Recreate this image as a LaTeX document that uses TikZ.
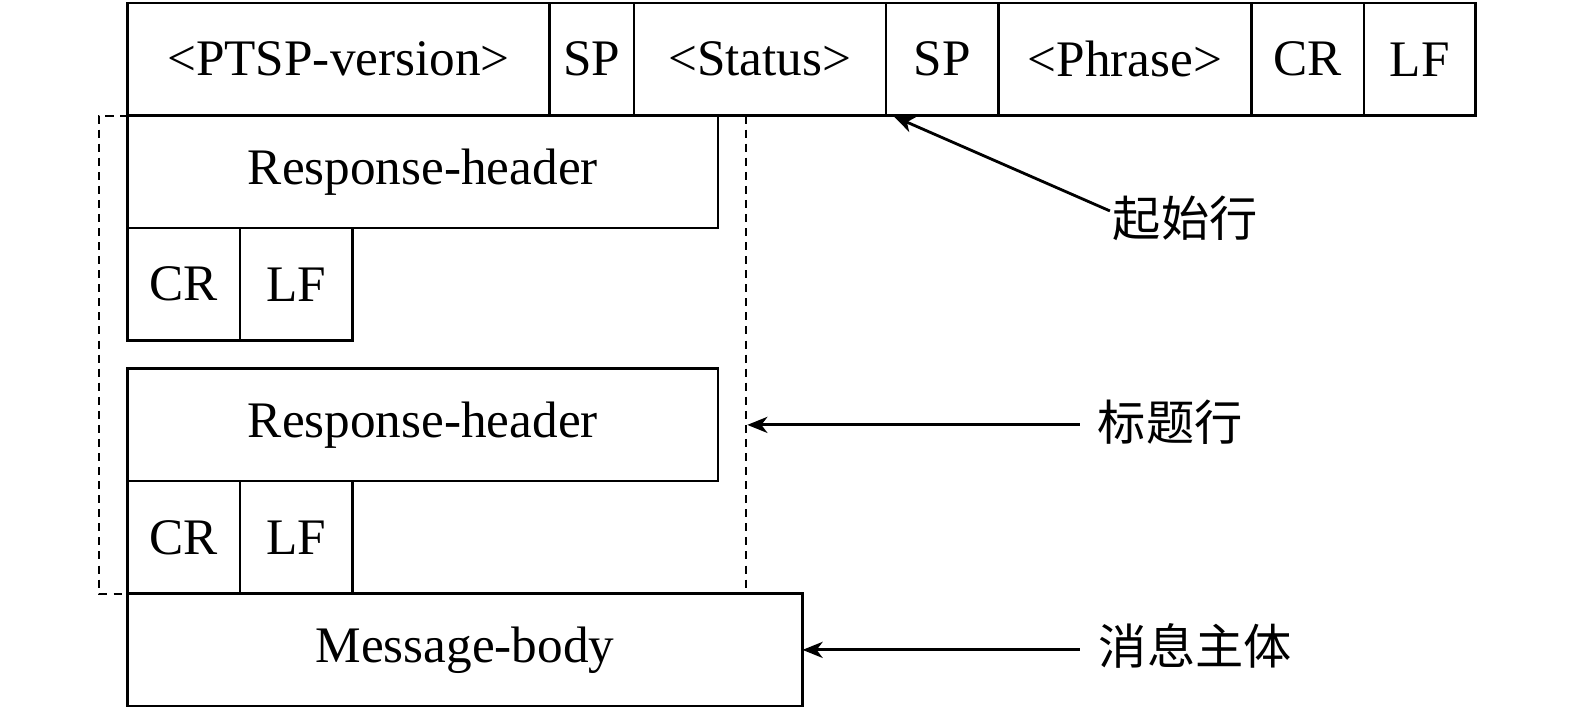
\documentclass[tikz,border=0pt]{standalone}
\usepackage{fontspec}
\setmainfont{Liberation Serif}
\newfontfamily\cjk{Noto Sans CJK SC}
\usetikzlibrary{arrows.meta}
\begin{document}
\begin{tikzpicture}[x=0.5pt,y=-0.5pt,
  cell/.style={draw,line width=1.2pt,inner sep=0pt,outer sep=0pt,font=\fontsize{25.5}{30}\selectfont,minimum height=56pt},
  lbl/.style={inner sep=0pt,font=\cjk\fontsize{24}{28}\selectfont},
  arr/.style={line width=1.4pt,-{Stealth[length=10pt,width=8pt,inset=3pt]}},
  dsh/.style={line width=1pt,dash pattern=on 4pt off 3pt}]
\useasboundingbox (0,0) rectangle (1568,706);
% top row
\node[cell,minimum width=210pt] (ver) at (337,59) {<PTSP-version>};
\node[cell,minimum width=42pt] (sp1) at (589,59) {SP};
\node[cell,minimum width=125.5pt] (st) at (756.5,59) {<Status>};
\node[cell,minimum width=56pt] (sp2) at (938,59) {SP};
\node[cell,minimum width=126pt] (ph) at (1120,59) {<Phrase>};
\node[cell,minimum width=56pt] (cr0) at (1302,59) {CR};
\node[cell,minimum width=55.5pt] (lf0) at (1413.5,59) {LF};
% header 1
\node[cell,minimum width=294pt] (rh1) at (421,171) {Response-header};
\node[cell,minimum width=56pt] (cr1) at (183,283) {CR};
\node[cell,minimum width=56pt] (lf1) at (295,283) {LF};
% header 2
\node[cell,minimum width=294pt] (rh2) at (421,423) {Response-header};
\node[cell,minimum width=56pt] (cr2) at (183,535) {CR};
\node[cell,minimum width=56pt] (lf2) at (295,535) {LF};
% body
\node[cell,minimum width=336pt] (mb) at (463,647) {Message-body};
% dashed bracket
\coordinate (dtl) at (99,115);
\coordinate (dbl) at (99,591);
\coordinate (dtr) at (743,115);
\coordinate (dbr) at (743,591);
\draw[dsh] (rh1.north west) -- (dtl) -- (dbl) -- (mb.north west);
\draw[dsh] (dtr) -- (dbr);
% labels
\node[lbl] (l1) at (1180,217) {起始行};
\node[lbl] (l2) at (1165,420) {标题行};
\node[lbl] (l3) at (1190,643) {消息主体};
\coordinate (a1s) at (1105,210);
\coordinate (a1e) at (890,116);
\coordinate (a2s) at (1075,423);
\coordinate (a2e) at (744,423);
\coordinate (a3s) at (1075,647);
\draw[arr] (a1s) -- (a1e);
\draw[arr] (a2s) -- (a2e);
\draw[arr] (a3s) -- (mb.east);
\end{tikzpicture}
\end{document}
